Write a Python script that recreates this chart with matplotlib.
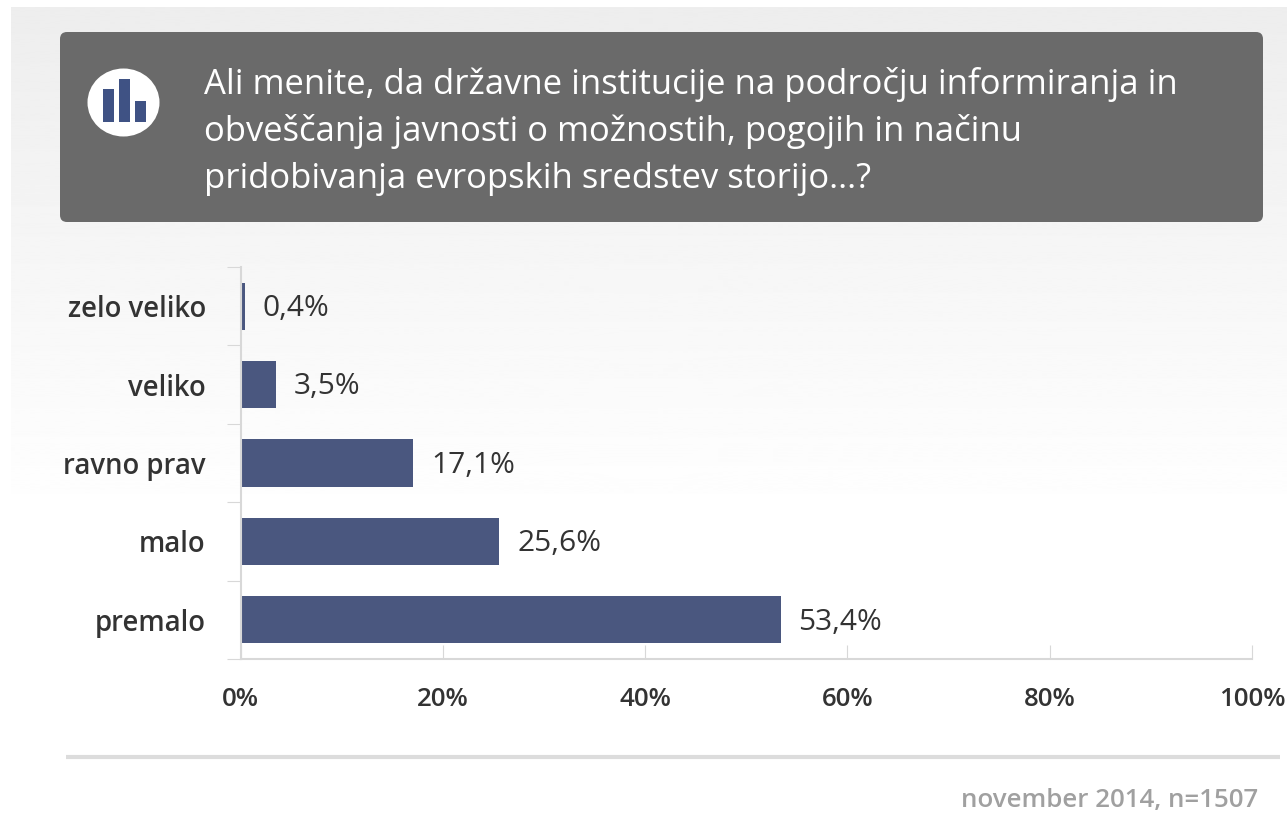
import matplotlib
matplotlib.use("Agg")
from matplotlib import pyplot as plt
from matplotlib.patches import FancyBboxPatch, Ellipse, Rectangle
import numpy as np

question = ["Ali menite, da državne institucije na področju informiranja in",
            "obveščanja javnosti o možnostih, pogojih in načinu",
            "pridobivanja evropskih sredstev storijo...?"]
categories = ["zelo veliko", "veliko", "ravno prav", "malo", "premalo"]
values = [0.4, 3.5, 17.1, 25.6, 53.4]
labels = ["0,4%", "3,5%", "17,1%", "25,6%", "53,4%"]
ticks = [0, 20, 40, 60, 80, 100]
note = "november 2014, n=1507"

W, H = 1287, 814
plt.rcParams['font.family'] = ['Open Sans', 'DejaVu Sans']
fig = plt.figure(figsize=(W/100, H/100), dpi=100)

# page background, canvas in pixels
bg = fig.add_axes([0, 0, 1, 1])
bg.set_xlim(0, W)
bg.set_ylim(H, 0)
bg.axis("off")
grad = np.ones((H, 1))
grad[:520, 0] = np.linspace(0.93, 1, 520)
bg.imshow(grad, cmap="gray", vmin=0, vmax=1, extent=[11, W, H, 7], aspect="auto")
bg.set_xlim(0, W)
bg.set_ylim(H, 0)

# question box and icon
bg.add_patch(FancyBboxPatch((60, 32), 1203, 190, boxstyle="round,pad=0,rounding_size=7",
                            fc="#6a6a6a", ec="none"))
bg.add_patch(Ellipse((123.5, 102.5), 72, 68, fc="white", ec="none"))
for x, top, bot in [(103, 89, 122), (119, 79, 122), (135, 101, 122)]:
    bg.add_patch(Rectangle((x, top), 11, bot-top, fc="#3f5284", ec="none"))

for i, line in enumerate(question):
    bg.text(204, 84+47.5*i, line, color="white", fontsize=24.9, va="center", ha="left")

bg.plot([66, 1280], [757, 757], color="#dcdcdc", lw=3, solid_capstyle="butt")
bg.text(1258, 801, note, color="#a0a0a0", fontsize=18.6, ha="right", va="center", fontweight="semibold")

# chart
x0, x1 = 240.5, 1252
top, bot = 267, 659
ax = fig.add_axes([x0/W, 1-bot/H, (x1-x0)/W, (bot-top)/H])
ax.patch.set_alpha(0)
y = np.arange(len(categories))
ax.barh(y, values, height=0.6, color="#4a577f")
ax.set_xlim(0, 100)
ax.set_ylim(len(categories)-0.5, -0.5)
ax.set_yticks(np.arange(len(categories)+1)-0.5, minor=False)
ax.set_yticklabels([])
ax.set_yticks(y, categories, minor=True)
ax.tick_params(axis="y", which="minor", length=0, pad=25, labelsize=19.8, labelcolor="#333333")
ax.tick_params(axis="y", which="major", length=10, color="#d8d8d8", direction="out")
ax.set_xticks(ticks, [f"{t}%" for t in ticks])
ax.tick_params(axis="x", length=10, color="#d8d8d8", direction="in", top=False, labelsize=18.6,
               labelcolor="#333333", pad=20)
for l in ax.get_yticklabels(minor=True) + ax.get_xticklabels():
    l.set_fontweight("semibold")
for s in ["top", "right"]:
    ax.spines[s].set_visible(False)
for s in ["left", "bottom"]:
    ax.spines[s].set_color("#d8d8d8")
    ax.spines[s].set_linewidth(1.5)
for v, yy, lab in zip(values, y, labels):
    ax.text(v+1.75, yy+0.03, lab, va="center", ha="left", fontsize=21.5, color="#333333")

fig.savefig("out.png", dpi=100)
